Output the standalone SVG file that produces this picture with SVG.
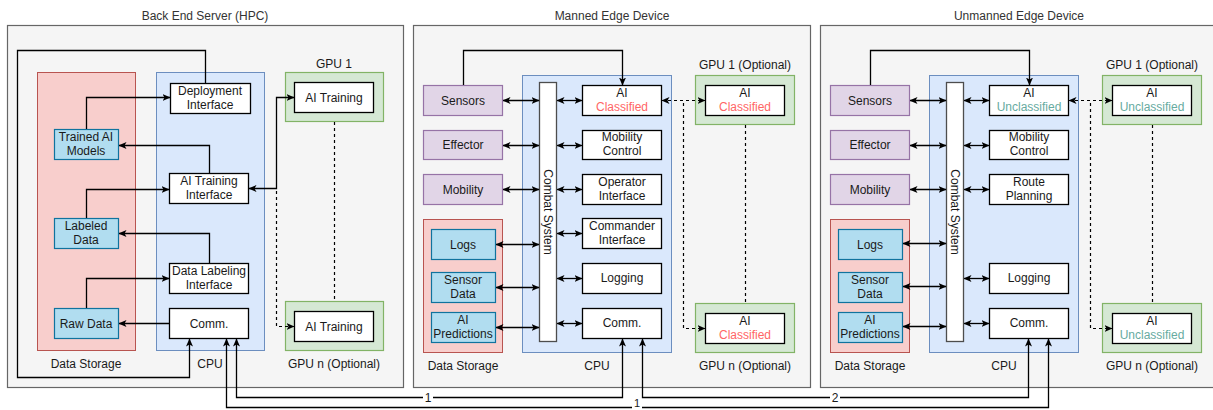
<svg xmlns="http://www.w3.org/2000/svg" width="1213" height="410" viewBox="0 0 1213 410">
  <style>
    text { font-family: "Liberation Sans", Arial, sans-serif; font-size: 12px; fill: #1a1a1a; text-anchor: middle; }
    .title { fill: #333333; }
    .outer { fill: #f5f5f5; stroke: #666666; stroke-width: 1.2; }
    .store { fill: #f8cecc; stroke: #b85450; stroke-width: 1; }
    .cpu { fill: #dae8fc; stroke: #6c8ebf; stroke-width: 1; }
    .gpu { fill: #d5e8d4; stroke: #82b366; stroke-width: 1.2; }
    .box { fill: #ffffff; stroke: #000000; stroke-width: 1.3; }
    .bar { fill: #ffffff; stroke: #4d4d4d; stroke-width: 1.3; }
    .dev { fill: #e1d5e7; stroke: #9673a6; stroke-width: 1.2; }
    .data { fill: #b1ddf0; stroke: #10739e; stroke-width: 1.2; }
    .red { fill: #ff6666; }
    .teal { fill: #67ab9f; }
    .edge { fill: none; stroke: #000000; stroke-width: 1.3; }
    .dash { fill: none; stroke: #000000; stroke-width: 1.2; stroke-dasharray: 3 3; }
    .lbl { fill: #ffffff; }
    .num { font-size: 11px; }
  </style>
  <defs>
    <marker id="arr" viewBox="0 0 8 8" refX="7.5" refY="4" markerWidth="8" markerHeight="8" markerUnits="userSpaceOnUse" orient="auto-start-reverse">
      <path d="M0,0.5 L8,4 L0,7.5 L2,4 z" fill="#000000"/>
    </marker>
  </defs>

  <!-- ===== Back End Server ===== -->
  <g id="backend">
    <rect class="outer" x="7.5" y="25.5" width="396" height="362"/>
    <text class="title" x="205" y="20">Back End Server (HPC)</text>
  </g>
  <g id="be-storage">
    <rect class="store" x="37.5" y="72.5" width="98" height="278"/>
    <text x="86" y="368">Data Storage</text>
  </g>
  <g id="be-cpu">
    <rect class="cpu" x="156.5" y="72.5" width="108" height="278"/>
    <text x="210" y="368">CPU</text>
  </g>
  <g id="be-gpu1">
    <rect class="gpu" x="285.5" y="72.5" width="98" height="49"/>
    <text x="334" y="68">GPU 1</text>
  </g>
  <g id="be-gpu1-train">
    <rect class="box" x="294.5" y="82.5" width="79" height="30"/>
    <text x="334" y="101.5">AI Training</text>
  </g>
  <g id="be-gpun">
    <rect class="gpu" x="285.5" y="301.5" width="98" height="49"/>
    <text x="334" y="368">GPU n (Optional)</text>
  </g>
  <g id="be-gpun-train">
    <rect class="box" x="294.5" y="311.5" width="79" height="30"/>
    <text x="334" y="330.5">AI Training</text>
  </g>
  <g id="be-deploy">
    <rect class="box" x="170.5" y="83.5" width="80" height="30"/>
    <text x="210" y="95">Deployment</text>
    <text x="210" y="109">Interface</text>
  </g>
  <g id="be-models">
    <rect class="data" x="54.5" y="129.5" width="64" height="30"/>
    <text x="86" y="141">Trained AI</text>
    <text x="86" y="155">Models</text>
  </g>
  <g id="be-train-if">
    <rect class="box" x="169.5" y="173.5" width="79" height="30"/>
    <text x="209" y="185">AI Training</text>
    <text x="209" y="199">Interface</text>
  </g>
  <g id="be-labeled">
    <rect class="data" x="54.5" y="218.5" width="64" height="30"/>
    <text x="86" y="230">Labeled</text>
    <text x="86" y="244">Data</text>
  </g>
  <g id="be-label-if">
    <rect class="box" x="169.5" y="263.5" width="79" height="30"/>
    <text x="209" y="275">Data Labeling</text>
    <text x="209" y="289">Interface</text>
  </g>
  <g id="be-raw">
    <rect class="data" x="54.5" y="308.5" width="64" height="30"/>
    <text x="86" y="327.5">Raw Data</text>
  </g>
  <g id="be-comm">
    <rect class="box" x="169.5" y="308.5" width="79" height="30"/>
    <text x="209" y="327.5">Comm.</text>
  </g>

  <!-- ===== Manned Edge Device ===== -->
  <g id="manned">
    <rect class="outer" x="413.5" y="25.5" width="397" height="362"/>
    <text class="title" x="612" y="20">Manned Edge Device</text>
  </g>
  <g id="m-sensors">
    <rect class="dev" x="423.5" y="85.5" width="79" height="30"/>
    <text x="463" y="104.5">Sensors</text>
  </g>
  <g id="m-effector">
    <rect class="dev" x="423.5" y="130.5" width="79" height="29"/>
    <text x="463" y="149">Effector</text>
  </g>
  <g id="m-mobility">
    <rect class="dev" x="423.5" y="174.5" width="79" height="30"/>
    <text x="463" y="193.5">Mobility</text>
  </g>
  <g id="m-storage">
    <rect class="store" x="423.5" y="219.5" width="79" height="133"/>
    <text x="463" y="370">Data Storage</text>
  </g>
  <g id="m-logs">
    <rect class="data" x="431.5" y="229.5" width="64" height="30"/>
    <text x="463" y="248.5">Logs</text>
  </g>
  <g id="m-sensordata">
    <rect class="data" x="431.5" y="272.5" width="64" height="30"/>
    <text x="463" y="284">Sensor</text>
    <text x="463" y="298">Data</text>
  </g>
  <g id="m-predictions">
    <rect class="data" x="431.5" y="312.5" width="64" height="30"/>
    <text x="463" y="324">AI</text>
    <text x="463" y="338">Predictions</text>
  </g>
  <g id="m-cpu">
    <rect class="cpu" x="522.5" y="75.5" width="149" height="277"/>
    <text x="597" y="370">CPU</text>
  </g>
  <g id="m-combat">
    <rect class="bar" x="539.5" y="82.5" width="17" height="259"/>
    <text x="548" y="212" transform="rotate(90 548 212)" dy="4">Combat System</text>
  </g>
  <g id="m-ai">
    <rect class="box" x="582.5" y="85.5" width="79" height="30"/>
    <text x="622" y="97">AI</text>
    <text class="red" x="622" y="111">Classified</text>
  </g>
  <g id="m-mobctl">
    <rect class="box" x="582.5" y="130.5" width="79" height="29"/>
    <text x="622" y="141">Mobility</text>
    <text x="622" y="155">Control</text>
  </g>
  <g id="m-operator">
    <rect class="box" x="582.5" y="174.5" width="79" height="30"/>
    <text x="622" y="186">Operator</text>
    <text x="622" y="200">Interface</text>
  </g>
  <g id="m-commander">
    <rect class="box" x="582.5" y="218.5" width="79" height="30"/>
    <text x="622" y="230">Commander</text>
    <text x="622" y="244">Interface</text>
  </g>
  <g id="m-logging">
    <rect class="box" x="582.5" y="263.5" width="79" height="30"/>
    <text x="622" y="282">Logging</text>
  </g>
  <g id="m-comm">
    <rect class="box" x="582.5" y="308.5" width="79" height="30"/>
    <text x="622" y="327">Comm.</text>
  </g>
  <g id="m-gpu1">
    <rect class="gpu" x="695.5" y="75.5" width="99" height="49"/>
    <text x="745" y="69">GPU 1 (Optional)</text>
  </g>
  <g id="m-gpu1-ai">
    <rect class="box" x="705.5" y="85.5" width="79" height="30"/>
    <text x="745" y="97">AI</text>
    <text class="red" x="745" y="111">Classified</text>
  </g>
  <g id="m-gpun">
    <rect class="gpu" x="695.5" y="303.5" width="99" height="49"/>
    <text x="745" y="370">GPU n (Optional)</text>
  </g>
  <g id="m-gpun-ai">
    <rect class="box" x="705.5" y="313.5" width="79" height="30"/>
    <text x="745" y="325">AI</text>
    <text class="red" x="745" y="339">Classified</text>
  </g>

  <!-- ===== Unmanned Edge Device ===== -->
  <g id="unmanned">
    <rect class="outer" x="820.5" y="25.5" width="400" height="362"/>
    <text class="title" x="1019" y="20">Unmanned Edge Device</text>
  </g>
  <g id="u-sensors">
    <rect class="dev" x="830.5" y="85.5" width="79" height="30"/>
    <text x="870" y="104.5">Sensors</text>
  </g>
  <g id="u-effector">
    <rect class="dev" x="830.5" y="130.5" width="79" height="29"/>
    <text x="870" y="149">Effector</text>
  </g>
  <g id="u-mobility">
    <rect class="dev" x="830.5" y="174.5" width="79" height="30"/>
    <text x="870" y="193.5">Mobility</text>
  </g>
  <g id="u-storage">
    <rect class="store" x="830.5" y="219.5" width="79" height="133"/>
    <text x="870" y="370">Data Storage</text>
  </g>
  <g id="u-logs">
    <rect class="data" x="838.5" y="229.5" width="64" height="30"/>
    <text x="870" y="248.5">Logs</text>
  </g>
  <g id="u-sensordata">
    <rect class="data" x="838.5" y="272.5" width="64" height="30"/>
    <text x="870" y="284">Sensor</text>
    <text x="870" y="298">Data</text>
  </g>
  <g id="u-predictions">
    <rect class="data" x="838.5" y="312.5" width="64" height="30"/>
    <text x="870" y="324">AI</text>
    <text x="870" y="338">Predictions</text>
  </g>
  <g id="u-cpu">
    <rect class="cpu" x="929.5" y="75.5" width="149" height="277"/>
    <text x="1004" y="370">CPU</text>
  </g>
  <g id="u-combat">
    <rect class="bar" x="946.5" y="82.5" width="17" height="259"/>
    <text x="955" y="212" transform="rotate(90 955 212)" dy="4">Combat System</text>
  </g>
  <g id="u-ai">
    <rect class="box" x="989.5" y="85.5" width="79" height="30"/>
    <text x="1029" y="97">AI</text>
    <text class="teal" x="1029" y="111">Unclassified</text>
  </g>
  <g id="u-mobctl">
    <rect class="box" x="989.5" y="130.5" width="79" height="29"/>
    <text x="1029" y="141">Mobility</text>
    <text x="1029" y="155">Control</text>
  </g>
  <g id="u-route">
    <rect class="box" x="989.5" y="174.5" width="79" height="30"/>
    <text x="1029" y="186">Route</text>
    <text x="1029" y="200">Planning</text>
  </g>
  <g id="u-logging">
    <rect class="box" x="989.5" y="263.5" width="79" height="30"/>
    <text x="1029" y="282">Logging</text>
  </g>
  <g id="u-comm">
    <rect class="box" x="989.5" y="308.5" width="79" height="30"/>
    <text x="1029" y="327">Comm.</text>
  </g>
  <g id="u-gpu1">
    <rect class="gpu" x="1102.5" y="75.5" width="99" height="49"/>
    <text x="1152" y="69">GPU 1 (Optional)</text>
  </g>
  <g id="u-gpu1-ai">
    <rect class="box" x="1112.5" y="85.5" width="79" height="30"/>
    <text x="1152" y="97">AI</text>
    <text class="teal" x="1152" y="111">Unclassified</text>
  </g>
  <g id="u-gpun">
    <rect class="gpu" x="1102.5" y="303.5" width="99" height="49"/>
    <text x="1152" y="370">GPU n (Optional)</text>
  </g>
  <g id="u-gpun-ai">
    <rect class="box" x="1112.5" y="313.5" width="79" height="30"/>
    <text x="1152" y="325">AI</text>
    <text class="teal" x="1152" y="339">Unclassified</text>
  </g>

  <!-- ===== Connectors ===== -->
  <g id="connectors">
    <!-- back end server -->
    <path class="edge" d="M86.5,129 V97.5 H170" marker-end="url(#arr)"/>
    <path class="edge" d="M209.5,173 V145.5 H119" marker-end="url(#arr)"/>
    <path class="edge" d="M86.5,218 V189.5 H169" marker-end="url(#arr)"/>
    <path class="edge" d="M209.5,263 V233.5 H119" marker-end="url(#arr)"/>
    <path class="edge" d="M86.5,308 V278.5 H169" marker-end="url(#arr)"/>
    <path class="edge" d="M169,323.5 H119" marker-end="url(#arr)"/>
    <path class="edge" d="M205.5,83 V50.5 H17.5 V377.5 H189.5 V339" marker-end="url(#arr)"/>
    <path class="edge" d="M249,188.5 H276.5 V97.5 H294" marker-start="url(#arr)" marker-end="url(#arr)"/>
    <path class="dash" d="M276.5,191 V326.5 H294" marker-end="url(#arr)"/>
    <path class="dash" d="M334.5,122 V301"/>

    <!-- manned edge device -->
    <path class="edge" d="M463.5,85 V50.5 H622.5 V85" marker-end="url(#arr)"/>
    <path class="edge" d="M503,100.5 H539" marker-start="url(#arr)" marker-end="url(#arr)"/>
    <path class="edge" d="M503,145.5 H539" marker-start="url(#arr)" marker-end="url(#arr)"/>
    <path class="edge" d="M503,189.5 H539" marker-start="url(#arr)" marker-end="url(#arr)"/>
    <path class="edge" d="M496,244.5 H539" marker-start="url(#arr)" marker-end="url(#arr)"/>
    <path class="edge" d="M496,287.5 H539" marker-start="url(#arr)" marker-end="url(#arr)"/>
    <path class="edge" d="M496,327.5 H539" marker-start="url(#arr)" marker-end="url(#arr)"/>
    <path class="edge" d="M557,100.5 H582" marker-start="url(#arr)" marker-end="url(#arr)"/>
    <path class="edge" d="M557,145.5 H582" marker-start="url(#arr)" marker-end="url(#arr)"/>
    <path class="edge" d="M557,189.5 H582" marker-start="url(#arr)" marker-end="url(#arr)"/>
    <path class="edge" d="M557,233.5 H582" marker-start="url(#arr)" marker-end="url(#arr)"/>
    <path class="edge" d="M557,278.5 H582" marker-start="url(#arr)" marker-end="url(#arr)"/>
    <path class="edge" d="M557,323.5 H582" marker-start="url(#arr)" marker-end="url(#arr)"/>
    <path class="dash" d="M662,100.5 H705" marker-start="url(#arr)" marker-end="url(#arr)"/>
    <path class="dash" d="M683.5,103 V328.5 H705" marker-end="url(#arr)"/>
    <path class="dash" d="M745.5,125 V303"/>

    <!-- unmanned edge device -->
    <path class="edge" d="M870.5,85 V50.5 H1029.5 V85" marker-end="url(#arr)"/>
    <path class="edge" d="M910,100.5 H946" marker-start="url(#arr)" marker-end="url(#arr)"/>
    <path class="edge" d="M910,145.5 H946" marker-start="url(#arr)" marker-end="url(#arr)"/>
    <path class="edge" d="M910,189.5 H946" marker-start="url(#arr)" marker-end="url(#arr)"/>
    <path class="edge" d="M903,243.5 H946" marker-start="url(#arr)" marker-end="url(#arr)"/>
    <path class="edge" d="M903,286.5 H946" marker-start="url(#arr)" marker-end="url(#arr)"/>
    <path class="edge" d="M903,326.5 H946" marker-start="url(#arr)" marker-end="url(#arr)"/>
    <path class="edge" d="M964,100.5 H989" marker-start="url(#arr)" marker-end="url(#arr)"/>
    <path class="edge" d="M964,145.5 H989" marker-start="url(#arr)" marker-end="url(#arr)"/>
    <path class="edge" d="M964,189.5 H989" marker-start="url(#arr)" marker-end="url(#arr)"/>
    <path class="edge" d="M964,278.5 H989" marker-start="url(#arr)" marker-end="url(#arr)"/>
    <path class="edge" d="M964,323.5 H989" marker-start="url(#arr)" marker-end="url(#arr)"/>
    <path class="dash" d="M1069,100.5 H1112" marker-start="url(#arr)" marker-end="url(#arr)"/>
    <path class="dash" d="M1090.5,103 V328.5 H1112" marker-end="url(#arr)"/>
    <path class="dash" d="M1152.5,125 V303"/>

    <!-- links between the communication modules -->
    <path class="edge" d="M236.5,339 V397.5 H622.5 V339" marker-start="url(#arr)" marker-end="url(#arr)"/>
    <path class="edge" d="M642.5,339 V397.5 H1028.5 V339" marker-start="url(#arr)" marker-end="url(#arr)"/>
    <path class="edge" d="M226.5,339 V407.5 H1048.5 V339" marker-start="url(#arr)" marker-end="url(#arr)"/>
    <rect class="lbl" x="423" y="390" width="10" height="15"/>
    <text x="428" y="402">1</text>
    <rect class="lbl" x="830" y="390" width="10" height="15"/>
    <text x="835" y="402">2</text>
    <rect class="lbl" x="632" y="400" width="10" height="10"/>
    <text class="num" x="637" y="407">1</text>
  </g>
</svg>
